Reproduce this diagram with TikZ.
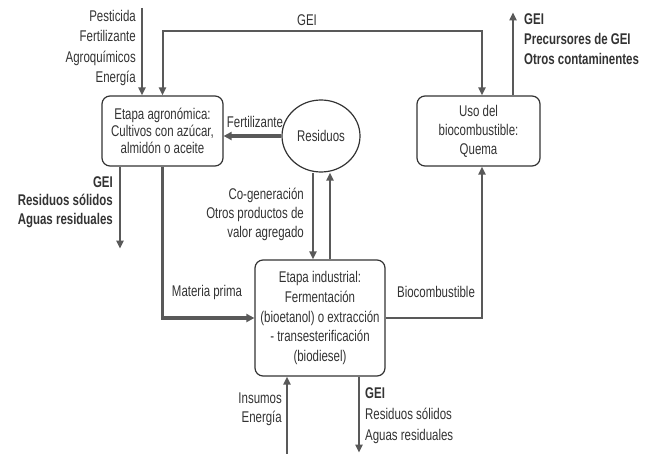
\documentclass[tikz,border=0pt]{standalone}
\usepackage{fontspec}
\setmainfont{Liberation Sans}[FakeStretch=0.74]
\usetikzlibrary{arrows.meta,shapes.geometric,calc}
\definecolor{txt}{HTML}{333333}
\definecolor{ln}{HTML}{595959}
\begin{document}
\begin{tikzpicture}[x=1pt,y=-1pt,
  every node/.style={text=txt,font=\fontsize{15.5}{17}\selectfont},
  stagebox/.style={draw=txt,line width=1.2pt,rounded corners=8pt,align=center,inner sep=0pt},
  arr/.style={draw=ln,line width=2pt,-{Triangle[length=8pt,width=7pt]}},
  thickarr/.style={draw=ln,line width=3.2pt,-{Triangle[length=8pt,width=8pt]}},
  lbl/.style={inner sep=0pt},
  ]
\useasboundingbox (0,0) rectangle (652,454);
% boxes
\node[stagebox,minimum width=121pt,minimum height=70pt] (agro) at (162.5,131)
  {Etapa agronómica:\\Cultivos con azúcar,\\almidón o aceite};
\node[stagebox,minimum width=123pt,minimum height=70pt,font=\fontsize{15.5}{19}\selectfont] (uso) at (478.5,131)
  {Uso del\\biocombustible:\\Quema};
\node[stagebox,minimum width=130pt,minimum height=116pt,font=\fontsize{15.5}{19.7}\selectfont] (ind) at (320,318)
  {Etapa industrial:\\Fermentación\\(bioetanol) o extracción\\- transesterificación\\(biodiesel)};
\node[draw=txt,line width=1.2pt,ellipse,minimum width=78pt,minimum height=72pt,inner sep=0pt] (res) at (321,136) {Residuos};
% coordinates
\coordinate (topin) at (142,8);
\coordinate (botin) at (287,454);
% connectors
\draw[arr] (topin) -- (topin |- agro.north);
\draw[draw=ln,line width=2pt,{Triangle[length=8pt,width=7pt]}-{Triangle[length=8pt,width=7pt]}]
  (agro.north) -- ++(0,-64) -| ([xshift=3.5pt]uso.north);
\draw[arr] ([xshift=34.5pt]uso.north) -- ++(0,-83);
\draw[thickarr] (res.west) -- (res.west -| agro.east);
\draw[arr] ([xshift=-42.5pt]agro.south) -- ++(0,82);
\draw[thickarr] (agro.south) |- (ind.west);
\draw[arr] (ind.east) -| ([xshift=3.5pt]uso.south);
\draw[arr] ([xshift=-8pt]res.south) -- ([xshift=-8pt]res.south |- ind.north);
\draw[arr] ([xshift=10pt]ind.north) -- ([xshift=10pt]ind.north |- res.south);
\draw[arr] (botin) -- (botin |- ind.south);
\draw[arr] ([xshift=39pt]ind.south) -- ++(0,76);
% labels
\node[lbl,anchor=east,align=right,font=\fontsize{15.5}{20.5}\selectfont] (l1) at (136,48)
  {Pesticida\\Fertilizante\\Agroquímicos\\Energía};
\node[lbl] (l2) at (307,20) {GEI};
\node[lbl,anchor=west,align=left,font=\bfseries\fontsize{15.5}{20}\selectfont] (l3) at (524,39)
  {GEI\\Precursores de GEI\\Otros contaminentes};
\node[lbl] (l4) at (255,122) {Fertilizante};
\node[lbl,anchor=east,align=right,font=\bfseries\fontsize{15.5}{18.5}\selectfont] (l5) at (113,202)
  {GEI\\Residuos sólidos\\Aguas residuales};
\node[lbl,anchor=east,align=right,font=\fontsize{15.5}{19}\selectfont] (l6) at (304,214)
  {Co-generación\\Otros productos de\\valor agregado};
\node[lbl] (l7) at (207,292) {Materia prima};
\node[lbl] (l8) at (436,292) {Biocombustible};
\node[lbl,anchor=east,align=right,font=\fontsize{15.5}{19}\selectfont] (l9) at (282,409)
  {Insumos\\Energía};
\node[lbl,anchor=west,align=left,font=\fontsize{15.5}{21}\selectfont] (l10) at (365,416)
  {\textbf{GEI}\\Residuos sólidos\\Aguas residuales};
\end{tikzpicture}
\end{document}
